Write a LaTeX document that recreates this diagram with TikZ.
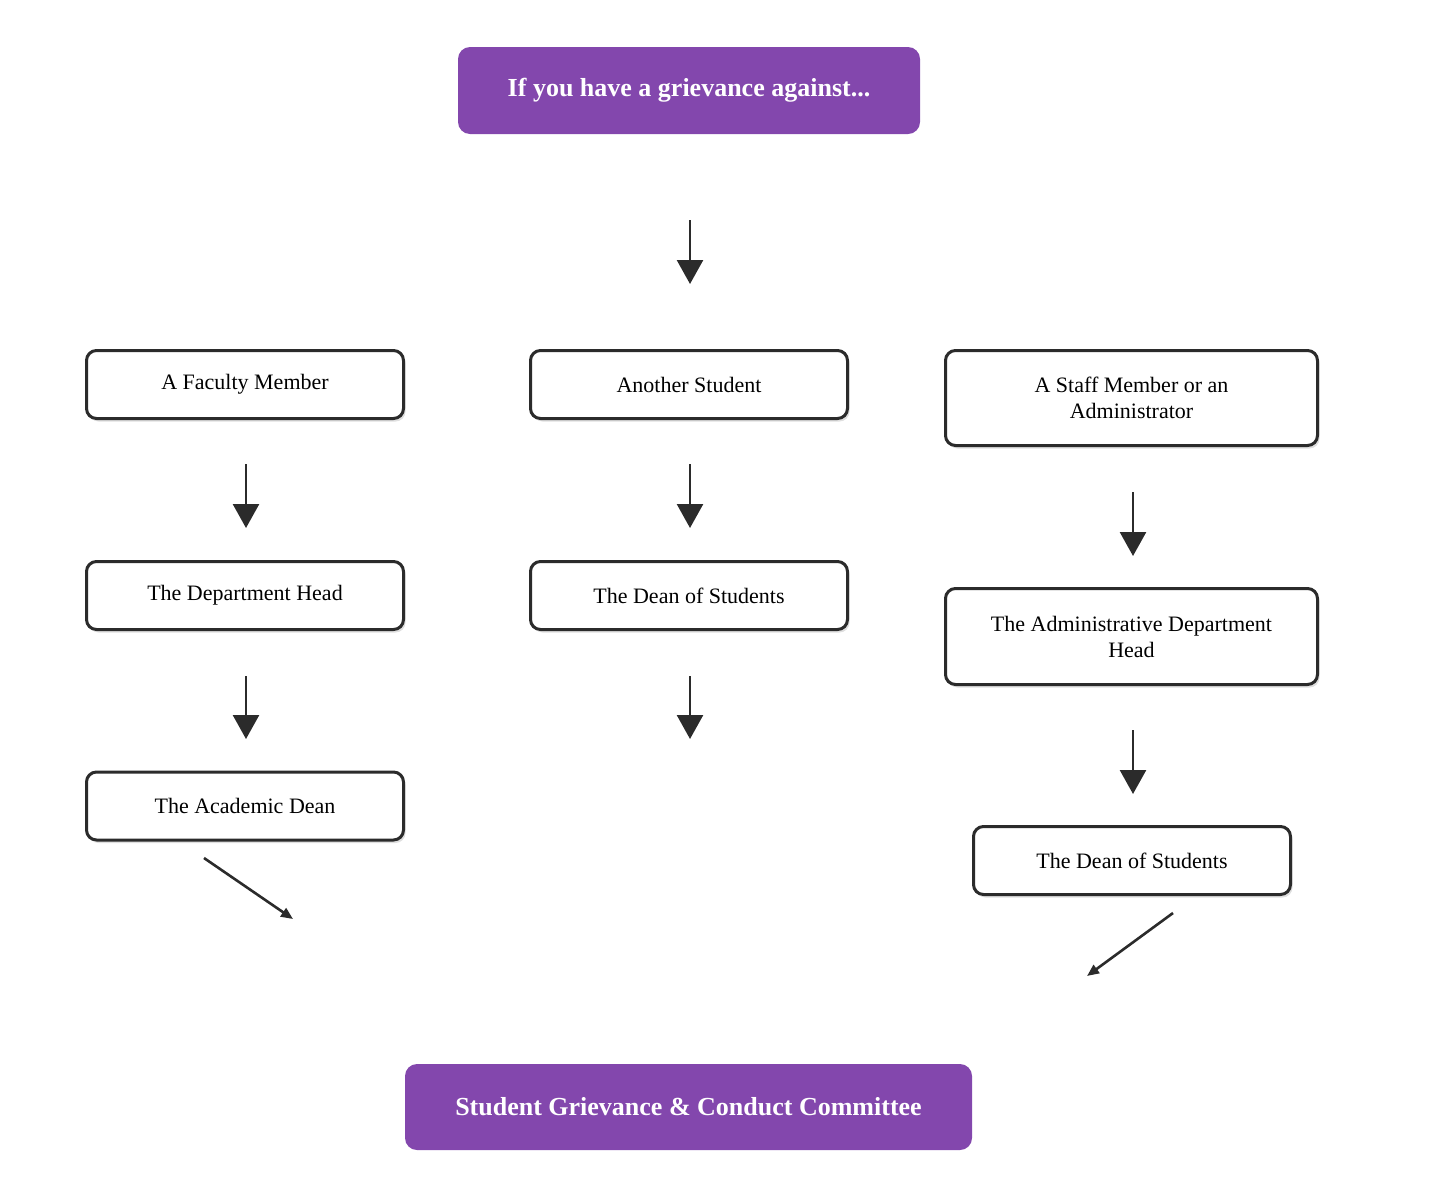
\documentclass[tikz,border=0pt]{standalone}
\usepackage{fontspec}
\setmainfont{Liberation Serif}
\usetikzlibrary{arrows.meta,shadows}
\definecolor{purp}{HTML}{8347AD}
\definecolor{ink}{HTML}{2B2B2B}
\begin{document}
\begin{tikzpicture}[x=0.5pt,y=-0.5pt,
  wbox/.style={draw=ink,line width=1.5pt,rounded corners=5pt,fill=white,align=center,font=\fontsize{11}{13}\selectfont,drop shadow={shadow xshift=1pt,shadow yshift=-1.5pt,opacity=0.25}},
  pbox/.style={fill=purp,rounded corners=6pt,text=white,font=\bfseries\fontsize{13}{15}\selectfont},
  bigarr/.style={draw=ink,line width=1.3pt,-{Triangle[length=12pt,width=13pt]}},
  smallarr/.style={draw=ink,line width=1.3pt,-{Triangle[length=6pt,width=5pt]}}]
\useasboundingbox (0,0) rectangle (1430,1200);
\newcommand\bx[6]{\node[#6,minimum width=#4*0.5pt-1.5pt,minimum height=#5*0.5pt-1.5pt] (#1) at (#2,#3) {#1text};}
\node[pbox,minimum width=231pt,minimum height=43.5pt] (top) at (689,90.5) {If you have a grievance against...};
\node[pbox,minimum width=283.5pt,minimum height=43pt] (bot) at (688.5,1107) {Student Grievance \& Conduct Committee};
\node[wbox,minimum width=158.5pt,minimum height=34pt] (fac) at (245,384.5) {A Faculty Member};
\node[wbox,minimum width=158.5pt,minimum height=34pt] (stu) at (689,384.5) {Another Student};
\node[wbox,minimum width=186pt,minimum height=47.5pt] (staff) at (1131.5,398) {A Staff Member or an\\Administrator};
\node[wbox,minimum width=158.5pt,minimum height=34pt] (dh) at (245,595.5) {The Department Head};
\node[wbox,minimum width=158.5pt,minimum height=34pt] (dos) at (689,595.5) {The Dean of Students};
\node[wbox,minimum width=186pt,minimum height=48pt] (adh) at (1131.5,636.5) {The Administrative Department\\Head};
\node[wbox,minimum width=158.5pt,minimum height=34pt] (ad) at (245,806) {The Academic Dean};
\node[wbox,minimum width=158.5pt,minimum height=34pt] (dos2) at (1132,860.5) {The Dean of Students};
\coordinate (a1s) at (690,220); \coordinate (a1e) at (690,284);
\coordinate (a2s) at (246,464); \coordinate (a2e) at (246,528);
\coordinate (a3s) at (690,464); \coordinate (a3e) at (690,528);
\coordinate (a4s) at (1133,492); \coordinate (a4e) at (1133,556);
\coordinate (a5s) at (246,676); \coordinate (a5e) at (246,739);
\coordinate (a6s) at (690,676); \coordinate (a6e) at (690,739);
\coordinate (a7s) at (1133,730); \coordinate (a7e) at (1133,794);
\coordinate (d1s) at (204,858); \coordinate (d1e) at (293,919);
\coordinate (d2s) at (1173,913); \coordinate (d2e) at (1087,976);
\foreach \i in {1,...,7}{\draw[bigarr] (a\i s) -- (a\i e);}
\draw[smallarr] (d1s) -- (d1e);
\draw[smallarr] (d2s) -- (d2e);
\end{tikzpicture}
\end{document}
